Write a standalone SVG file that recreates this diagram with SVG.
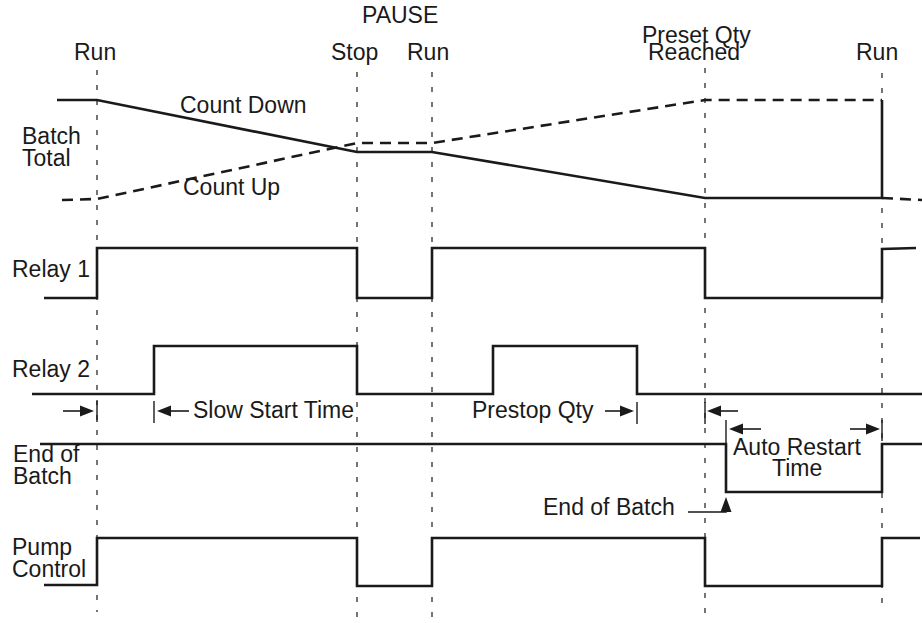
<svg xmlns="http://www.w3.org/2000/svg" width="922" height="623" viewBox="0 0 922 623">
<style>
text{font-family:"Liberation Sans",Arial,sans-serif;font-size:23px;fill:#1a1a1a}
.sig{fill:none;stroke:#1a1a1a;stroke-width:2.6;stroke-linejoin:miter}
.dsig{fill:none;stroke:#1a1a1a;stroke-width:2.6;stroke-dasharray:11 7}
.grid{fill:none;stroke:#1a1a1a;stroke-width:1.2;stroke-dasharray:5 10}
.tick{stroke:#1a1a1a;stroke-width:1.4}
.arr{stroke:#1a1a1a;stroke-width:1.6;fill:none}
.head{fill:#1a1a1a}
</style>
<rect width="922" height="623" fill="#fff"/>
<g id="gridlines">
<line class="grid" x1="97" y1="70" x2="97" y2="612"/>
<line class="grid" x1="357" y1="72" x2="357" y2="623"/>
<line class="grid" x1="432" y1="72" x2="432" y2="623"/>
<line class="grid" x1="705" y1="68" x2="705" y2="613"/>
<line class="grid" x1="882" y1="73" x2="882" y2="613"/>
</g>
<g id="event-labels">
<text x="362" y="23">PAUSE</text>
<text x="74" y="60">Run</text>
<text x="331" y="60">Stop</text>
<text x="407" y="60">Run</text>
<text x="642" y="43">Preset Qty</text>
<text x="648" y="60">Reached</text>
<text x="856" y="60">Run</text>
</g>
<g id="batch-total">
<text x="22" y="144">Batch</text>
<text x="22" y="166">Total</text>
<polyline class="sig" points="57,100 97,100 357,152 432,152 705,198 882,198 882,100"/>
<polyline class="dsig" points="62,200 97,199 357,143 432,143 705,100 882,100"/>
<polyline class="dsig" points="882,198 922,200"/>
<text x="180" y="113">Count Down</text>
<text x="183" y="195">Count Up</text>
</g>
<g id="relay1">
<text x="12" y="277">Relay 1</text>
<polyline class="sig" points="44,298 97,298 97,248 357,248 357,298 432,298 432,248 705,248 705,298 882,298 882,249 916,248"/>
</g>
<g id="relay2">
<text x="12" y="377">Relay 2</text>
<polyline class="sig" points="32,394 154,394 154,346 357,346 357,394 493,394 493,346 637,346 637,394 922,394"/>
</g>
<g id="end-of-batch">
<text x="13" y="462">End of</text>
<text x="13" y="484">Batch</text>
<polyline class="sig" points="40,444 726,444 726,492 882,492 882,444 922,444"/>
</g>
<g id="pump-control">
<text x="12" y="555">Pump</text>
<text x="12" y="577">Control</text>
<polyline class="sig" points="44,585 97,585 97,538 357,538 357,586 432,586 432,538 705,538 705,586 882,586 882,538 920,538"/>
</g>
<g id="annotations">
<line class="arr" x1="63" y1="411" x2="82" y2="411"/>
<polygon class="head" points="94,411 80,405.5 80,416.5"/>
<line class="tick" x1="97" y1="401" x2="97" y2="422"/>
<line class="tick" x1="154" y1="401" x2="154" y2="423"/>
<polygon class="head" points="157,411 171,405.5 171,416.5"/>
<line class="arr" x1="169" y1="411" x2="189" y2="411"/>
<text x="193" y="418">Slow Start Time</text>
<text x="472" y="418">Prestop Qty</text>
<line class="arr" x1="605" y1="411" x2="622" y2="411"/>
<polygon class="head" points="634,411 620,405.5 620,416.5"/>
<line class="tick" x1="637" y1="402" x2="637" y2="424"/>
<line class="tick" x1="705" y1="402" x2="705" y2="424"/>
<polygon class="head" points="707,411 721,405.5 721,416.5"/>
<line class="arr" x1="719" y1="411" x2="738" y2="411"/>
<line class="tick" x1="726" y1="420" x2="726" y2="445"/>
<polygon class="head" points="729,429 743,423.5 743,434.5"/>
<line class="arr" x1="741" y1="429" x2="761" y2="429"/>
<line class="arr" x1="850" y1="429" x2="868" y2="429"/>
<polygon class="head" points="880,429 866,423.5 866,434.5"/>
<line class="tick" x1="882" y1="420" x2="882" y2="441"/>
<text x="733" y="455">Auto Restart</text>
<text x="772" y="476">Time</text>
<text x="543" y="515">End of Batch</text>
<polyline class="arr" points="688,512 726,512 726,508"/>
<polygon class="head" points="726,497 720.5,512 731.5,512"/>
</g>
</svg>
